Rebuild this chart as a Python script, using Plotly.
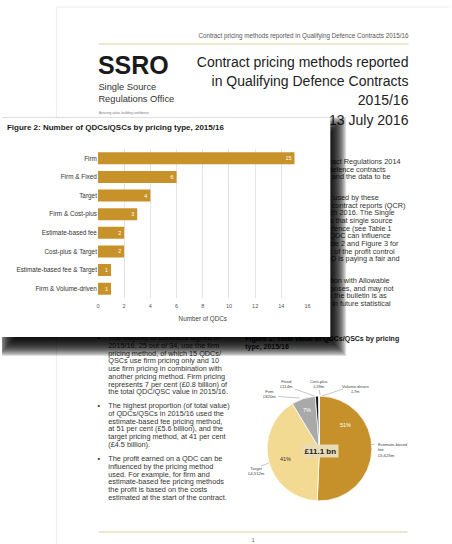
import plotly.graph_objects as go

W, H = 452, 544
FONT = "Liberation Sans, Arial, Helvetica, sans-serif"

# ---- Figure 2: number of QDCs/QSCs by pricing type ----
pricing_types = ["Firm", "Firm & Fixed", "Target", "Firm & Cost-plus",
                 "Estimate-based fee", "Cost-plus & Target",
                 "Estimate-based fee & Target", "Firm & Volume-driven"]
qdc_counts = [15, 6, 4, 3, 2, 2, 1, 1]
count_ticks = [0, 2, 4, 6, 8, 10, 12, 14, 16]

# ---- Figure 1: total value by pricing type (GBP million) ----
value_types = ["Estimate-based fee", "Target", "Firm", "Fixed", "Cost-plus", "Volume-driven"]
value_names = ["Estimate-based<br>fee", "Target", "Firm", "Fixed", "Cost-plus", "Volume-driven"]
values_m = [5625, 4512, 820, 114, 19, 7]

GOLD = "#C8922A"
RULE = "#D9CD9E"
TEXT = "#333333"
slice_colors = ["#C6912B", "#F3DA93", "#A9A9A9", "#151515", "#505050", "#D6D6D6"]

# ---- page text ----
running_head = "Contract pricing methods reported in Qualifying Defence Contracts 2015/16"
title_lines = ["Contract pricing methods reported", "in Qualifying Defence Contracts", "2015/16"]
issue_date = "13 July 2016"

right_paras = [
    ["Contract Regulations 2014",
     "qualifying defence contracts",
     "QSCs and the data to be"],
    ["methods used by these",
     "quarterly contract reports (QCR)",
     "March 2016. The Single",
     "regards that single source",
     "Defence (see Table 1",
     "a QDC can influence",
     "Table 2 and Figure 3 for",
     "part of the profit control",
     "MOD is paying a fair and"],
    ["conjunction with Allowable",
     "purposes, and may not",
     "in the bulletin is as",
     "sed in future statistical"],
]
right_ends = [[403, 388, 393],
              [381, 408, 397, 395, 394, 393, 401, 397, 402],
              [392, 396, 389, 393]]
right_starts = [162, 198, 281]

bullets = [
    ["The majority of contracts signed in",
     "2015/16, 25 out of 34, use the firm",
     "pricing method, of which 15 QDCs/",
     "QSCs use firm pricing only and 10",
     "use firm pricing in combination with",
     "another pricing method. Firm pricing",
     "represents 7 per cent (£0.8 billion) of",
     "the total QDC/QSC value in 2015/16."],
    ["The highest proportion (of total value)",
     "of QDCs/QSCs in 2015/16 used the",
     "estimate-based fee pricing method,",
     "at 51 per cent (£5.6 billion), and the",
     "target pricing method, at 41 per cent",
     "(£4.5 billion)."],
    ["The profit earned on a QDC can be",
     "influenced by the pricing method",
     "used. For example, for firm and",
     "estimate-based fee pricing methods",
     "the profit is based on the costs",
     "estimated at the start of the contract."],
]
bullet_starts = [338.5, 406.5, 459.5]
LINE = 7.7

traces = []


def text_lines(lines, xs, ys, size, color=TEXT, pos="middle right", bold=False):
    if not isinstance(xs, list):
        xs = [xs] * len(lines)
    txt = [f"<b>{t}</b>" if bold else t for t in lines]
    traces.append(go.Scatter(
        x=xs, y=ys, mode="text", text=txt, textposition=pos,
        textfont=dict(family=FONT, size=size, color=color),
        hoverinfo="skip", showlegend=False, cliponaxis=False,
        xaxis="x", yaxis="y"))


def rect(x0, y0, x1, y1, color):
    traces.append(go.Scatter(
        x=[x0, x1, x1, x0, x0], y=[y0, y0, y1, y1, y0], mode="lines",
        fill="toself", fillcolor=color, line=dict(width=0),
        hoverinfo="skip", showlegend=False, xaxis="x", yaxis="y"))


def rule(x0, y0, x1, y1, color, width=1.0):
    traces.append(go.Scatter(
        x=[x0, x1], y=[y0, y1], mode="lines", line=dict(color=color, width=width),
        hoverinfo="skip", showlegend=False, xaxis="x", yaxis="y"))


# page edges and rules
rule(55, 7, 55, H, "#EDEDED", 1)
rule(55, 7, W, 7, "#EDEDED", 1)
rule(98, 44, 411, 44, RULE, 1.2)
rule(98, 532, 410, 532, RULE, 1.2)

# masthead
text_lines([running_head], 411, [36], 6.3, "#555555", "middle left")
text_lines(["SSRO"], 97, [68], 25, "#1A1A1A", bold=True)
text_lines(["Single Source", "Regulations Office"], 97.5, [88, 100], 9.3, "#333333")
text_lines(["Assuring value, building confidence"], 98, [113], 3.2, "#777777")
text_lines(title_lines, 411, [63, 82, 101], 14, "#222222", "middle left")
text_lines([issue_date], 411, [121], 14, "#222222", "middle left")

# right column body text
for para, ends, y0 in zip(right_paras, right_ends, right_starts):
    text_lines(para, ends, [y0 + i * LINE for i in range(len(para))], 7.3, TEXT, "middle left")

# Figure 1 heading
text_lines(["Figure 1: Total value of QDCs/QSCs by pricing", "type, 2015/16"],
           246, [339.5, 347.2], 7, "#1A1A1A", bold=True)

# left column bullet list
for para, y0 in zip(bullets, bullet_starts):
    text_lines(["•"], 96.5, [y0], 7.3, TEXT)
    text_lines(para, 107.5, [y0 + i * LINE for i in range(len(para))], 7.3, TEXT)
text_lines(["1"], 254, [541], 5, "#555555", "middle center")

# card with drop shadow
CX0, CY0, CX1, CY1 = 0, 118, 332, 337
DX, DY, BLUR, N = 6, 9, 10, 20
for k in range(N):
    e = -BLUR + k * 2 * BLUR / (N - 1)
    rect(CX0 + DX - e, CY0 + DY - e, CX1 + DX + e, CY1 + DY + e, "rgba(0,0,0,0.13)")
rect(CX0, CY0, CX1, CY1, "#FFFFFF")

text_lines(["Figure 2: Number of QDCs/QSCs by pricing type, 2015/16"], 5, [128], 8,
           "#1A1A1A", bold=True)
text_lines(["Number of QDCs"], 203, [319], 6.3, "#444444", "middle center")

# bar chart
traces.append(go.Bar(
    x=qdc_counts, y=pricing_types, orientation="h", width=0.64,
    marker=dict(color=GOLD, line=dict(width=0)),
    text=[str(c) for c in qdc_counts], textposition="inside", insidetextanchor="end",
    textangle=0, textfont=dict(family=FONT, size=5.5, color="white"),
    hoverinfo="skip", showlegend=False, xaxis="x2", yaxis="y2"))

# pie chart
traces.append(go.Pie(
    labels=value_types, values=values_m, sort=False, direction="clockwise", rotation=0,
    marker=dict(colors=slice_colors, line=dict(color="white", width=0.8)),
    textinfo="none", hoverinfo="skip", showlegend=False,
    domain=dict(x=[268 / W, 374 / W], y=[1 - 502 / H, 1 - 395 / H])))

fig = go.Figure(traces)

total_m = sum(values_m)
pcts = [round(100 * v / total_m) for v in values_m]

annotations = []
pct_pos = [(347, 425, "white"), (287, 459, "#333333"), (308, 410, "white")]
for p, (ax, ay, col) in zip(pcts[:3], pct_pos):
    annotations.append(dict(x=ax, y=ay, xref="x", yref="y", text=f"{p}%", showarrow=False,
                            font=dict(family=FONT, size=5.5, color=col)))

label_pos = [(378, 450, "left"), (257, 470.5, "center"), (270, 394, "center"),
             (288, 384, "center"), (321, 384, "center"), (357, 389, "center")]
for name, v, (lx, ly, al) in zip(value_names, values_m, label_pos):
    annotations.append(dict(x=lx, y=ly, xref="x", yref="y", text=f"{name}<br>£{v:,}m",
                            showarrow=False, align=al, xanchor=al if al == "left" else "center",
                            yanchor="middle",
                            font=dict(family=FONT, size=4.2, color="#444444")))

annotations.append(dict(x=322, y=451, xref="x", yref="y",
                        text=f"<b>£{total_m / 1000:.1f} bn</b>", showarrow=False,
                        bgcolor="#E8DBB6", borderpad=1.5,
                        font=dict(family=FONT, size=8, color="#1E1E1E")))

leaders = [((279, 396.5), (301, 398)), ((296, 389), (316, 396)), ((321, 390), (321.5, 395)),
           ((345, 389), (323.5, 396)), ((372, 445), (377, 444)), ((262, 466), (270, 463))]
shapes = [dict(type="line", xref="x", yref="y", x0=a[0], y0=a[1], x1=b[0], y1=b[1],
               line=dict(color="#A0A0A0", width=0.6), layer="above") for a, b in leaders]

fig.update_layout(
    width=W, height=H, margin=dict(l=0, r=0, t=0, b=0),
    paper_bgcolor="white", plot_bgcolor="rgba(0,0,0,0)",
    showlegend=False, annotations=annotations, shapes=shapes,
    xaxis=dict(domain=[0, 1], range=[0, W], visible=False, fixedrange=True),
    yaxis=dict(domain=[0, 1], range=[H, 0], visible=False, fixedrange=True),
    xaxis2=dict(domain=[97 / W, 309 / W], range=[0, 16], anchor="y2",
                tickvals=count_ticks, showgrid=True, gridcolor="#E4E4E4", gridwidth=0.8,
                zeroline=False, showline=False, ticks="", ticklabelstandoff=3,
                tickfont=dict(family=FONT, size=5.5, color="#555555"), fixedrange=True),
    yaxis2=dict(domain=[1 - 298 / H, 1 - 149 / H], anchor="x2", autorange="reversed",
                showgrid=False, zeroline=False, showline=False, ticks="",
                tickfont=dict(family=FONT, size=6.4, color="#333333"), fixedrange=True),
)

fig.write_html("out.html")
